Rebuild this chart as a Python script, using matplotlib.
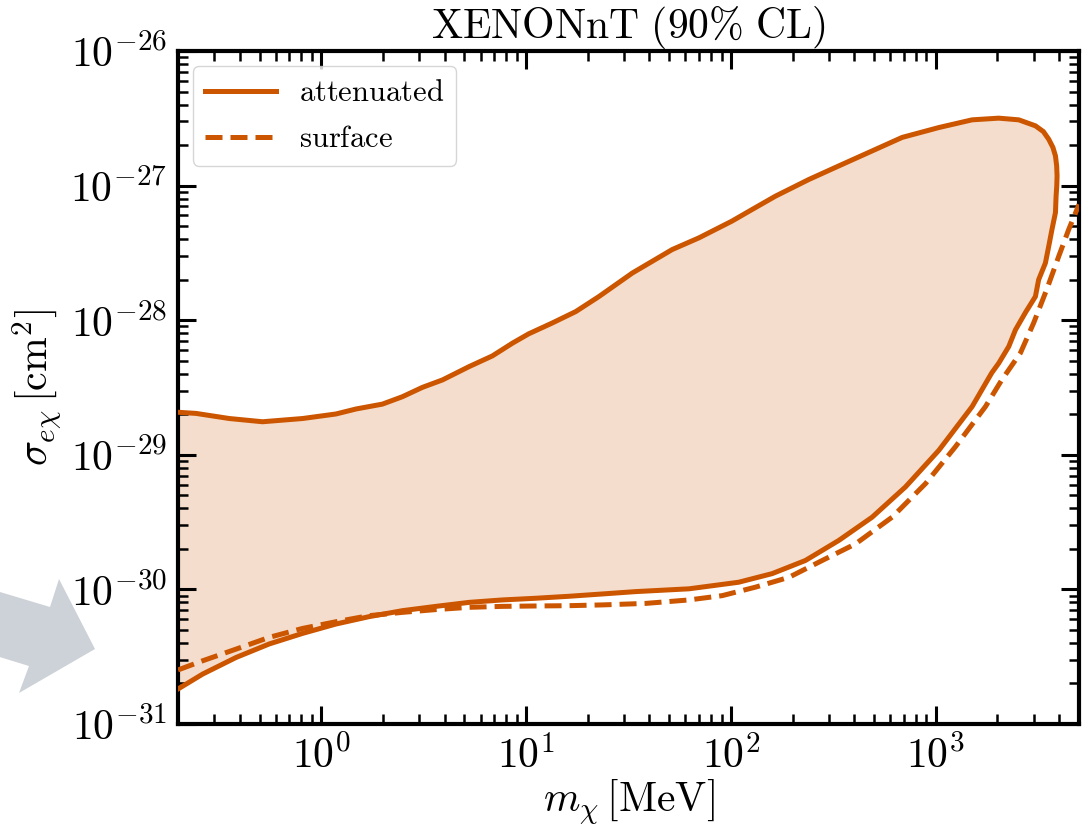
import numpy as np
import matplotlib
matplotlib.use("Agg")
import matplotlib.pyplot as plt
from matplotlib.ticker import LogLocator, FuncFormatter, NullFormatter
from matplotlib.patches import Polygon

# ---------------- data ----------------
# attenuated: closed contour, upper branch left->right, around the tip, lower branch right->left
att_mass = [0.2, 0.245, 0.356, 0.517, 0.811, 1.18, 1.48, 1.99, 2.49, 3.12, 3.91, 5.27, 6.85,
            8.58, 10.3, 13.4, 17.5, 22.7, 33.0, 51.7, 69.8, 101, 127, 165, 240, 336, 489,
            685, 1035, 1504, 2028, 2541, 3064, 3350, 3558, 3730, 3838, 3890, 3908, 3895,
            3865, 3838, 3690, 3558, 3428, 3177, 3064, 2739, 2448, 2270, 2028, 1875, 1504,
            1035, 711, 489, 336, 231, 159, 109, 62.4, 34.3, 23.6, 16.2, 11.1, 7.66, 5.27,
            3.63, 2.49, 1.71, 1.18, 0.811, 0.557, 0.384, 0.264, 0.2]
att_sigma = [2.07e-29, 2.03e-29, 1.86e-29, 1.76e-29, 1.86e-29, 2.01e-29, 2.19e-29, 2.38e-29,
             2.70e-29, 3.17e-29, 3.60e-29, 4.52e-29, 5.43e-29, 6.75e-29, 7.92e-29, 9.52e-29,
             1.16e-28, 1.50e-28, 2.24e-28, 3.35e-28, 4.09e-28, 5.44e-28, 6.65e-28, 8.35e-28,
             1.11e-27, 1.40e-27, 1.81e-27, 2.28e-27, 2.70e-27, 3.08e-27, 3.17e-27, 3.08e-27,
             2.78e-27, 2.52e-27, 2.21e-27, 1.92e-27, 1.66e-27, 1.40e-27, 1.18e-27, 1.00e-27,
             8.35e-28, 6.31e-28, 4.72e-28, 3.54e-28, 2.66e-28, 2.00e-28, 1.50e-28, 1.14e-28,
             8.48e-29, 6.37e-29, 4.79e-29, 4.06e-29, 2.28e-29, 1.08e-29, 5.77e-30, 3.44e-30,
             2.31e-30, 1.64e-30, 1.31e-30, 1.13e-30, 1.01e-30, 9.63e-31, 9.25e-31, 8.89e-31,
             8.59e-31, 8.35e-31, 8.01e-31, 7.48e-31, 6.95e-31, 6.27e-31, 5.53e-31, 4.71e-31,
             3.93e-31, 3.12e-31, 2.35e-31, 1.82e-31]

surf_mass = [0.2, 0.264, 0.384, 0.557, 0.811, 1.18, 1.71, 2.49, 3.63, 5.27, 7.66, 11.1, 16.2,
             23.6, 38.4, 62.4, 90.7, 132, 192, 279, 406, 612, 891, 1248, 1747, 2099, 2589,
             3006, 3478, 3981, 4454, 5000]
surf_sigma = [2.52e-31, 2.95e-31, 3.60e-31, 4.40e-31, 5.13e-31, 5.75e-31, 6.38e-31, 6.75e-31,
              7.08e-31, 7.36e-31, 7.48e-31, 7.53e-31, 7.57e-31, 7.67e-31, 7.87e-31, 8.35e-31,
              8.99e-31, 1.04e-30, 1.23e-30, 1.64e-30, 2.18e-30, 3.44e-30, 6.11e-30, 1.15e-29,
              2.28e-29, 3.60e-29, 5.71e-29, 9.57e-29, 1.69e-28, 2.98e-28, 4.72e-28, 7.24e-28]

labels = ["attenuated", "surface"]
title = "XENONnT (90% CL)"

# ---------------- style ----------------
plt.rcParams["mathtext.fontset"] = "cm"
color = "#cc5500"

fig = plt.figure(figsize=(10.91, 8.26), dpi=100)
ax = fig.add_axes([0.16315, 0.12349, 0.82585, 0.81477])

ax.fill(att_mass, att_sigma, color=color, alpha=0.2, lw=0, zorder=1)
ax.plot(att_mass, att_sigma, color=color, lw=3.6, solid_joinstyle="round", zorder=3,
        label=r"$\mathrm{%s}$" % labels[0])
ax.plot(surf_mass, surf_sigma, color=color, lw=3.6, ls="--", dashes=(3.4, 1.6), zorder=3,
        label=r"$\mathrm{%s}$" % labels[1])

ax.set_xscale("log")
ax.set_yscale("log")
ax.set_xlim(0.2, 5000)
ax.set_ylim(1e-31, 1e-26)

def logfmt(v, pos):
    e = int(round(np.log10(v)))
    return r"$10^{%d}$" % e

for axis in (ax.xaxis, ax.yaxis):
    axis.set_major_locator(LogLocator(base=10, numticks=20))
    axis.set_minor_locator(LogLocator(base=10, subs=np.arange(2, 10), numticks=100))
    axis.set_major_formatter(FuncFormatter(logfmt))
    axis.set_minor_formatter(NullFormatter())

ax.tick_params(which="both", direction="in", top=True, right=True, labelsize=30, pad=8)
ax.tick_params(which="major", length=13, width=2.2)
ax.tick_params(which="minor", length=7.5, width=1.8)
for s in ax.spines.values():
    s.set_linewidth(3)

ax.set_title(r"$\mathrm{XENONnT\ (90\%\ CL)}$", fontsize=30, pad=4)
ax.set_xlabel(r"$m_\chi\,[\mathrm{MeV}]$", fontsize=30, labelpad=0)
ax.set_ylabel(r"$\sigma_{e\chi}\,[\mathrm{cm}^2]$", fontsize=30, labelpad=4)

leg = ax.legend(loc="upper left", fontsize=22, handlelength=2.3, handletextpad=0.75,
                borderaxespad=0.5, labelspacing=0.55, framealpha=0.8)

# decorative grey arrow at the left edge (figure pixel coordinates)
W, H = 1091.0, 826.0
arrow_px = [(-20, 586), (50, 607), (59, 579), (95, 649), (19, 693), (29, 666), (-20, 651)]
arrow = Polygon([(x / W, 1 - y / H) for x, y in arrow_px], closed=True,
                transform=fig.transFigure, facecolor="#cdd2d8", edgecolor="none", zorder=0)
fig.add_artist(arrow)

fig.savefig("out.png", dpi=100)
